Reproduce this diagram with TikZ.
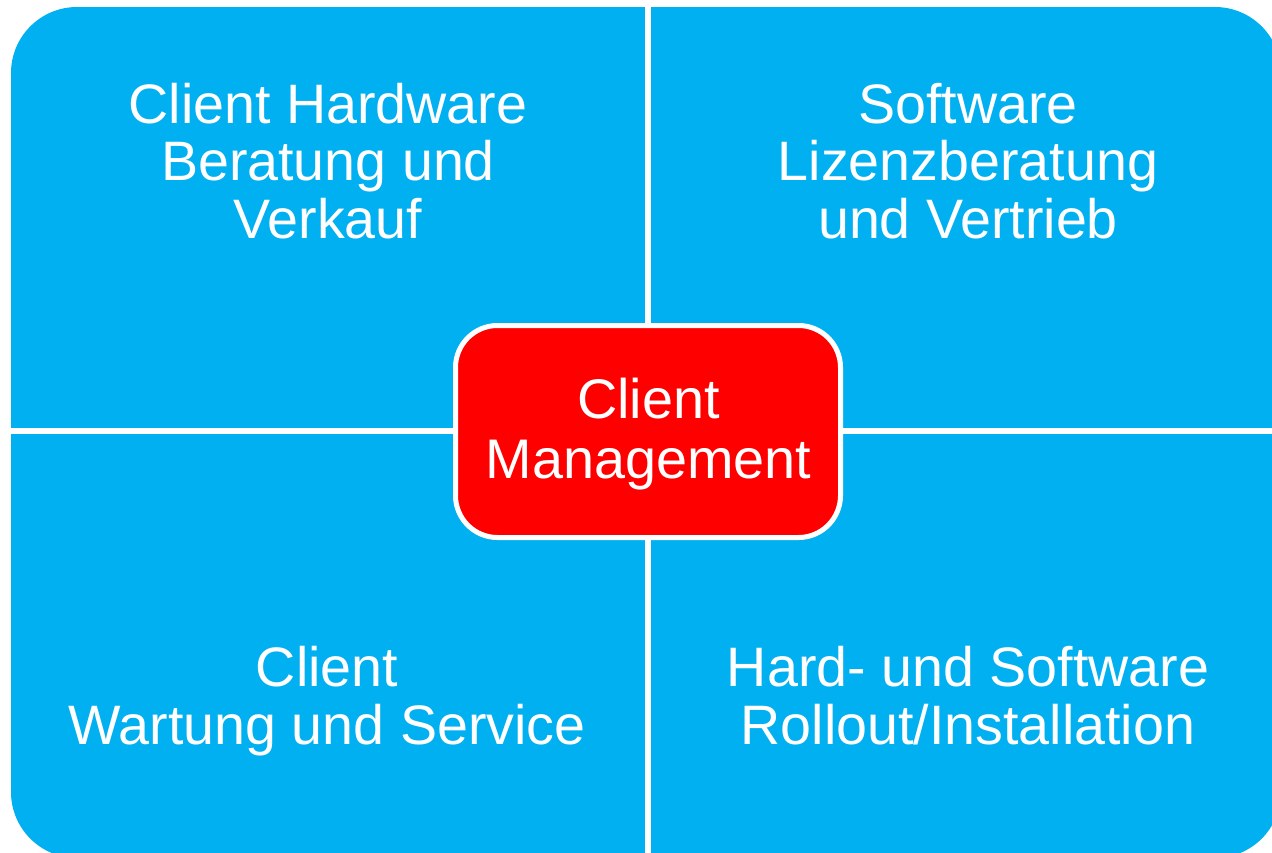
\documentclass[tikz,border=0pt]{standalone}
\usepackage{fontspec}
\setmainfont{Liberation Sans}
\definecolor{qblue}{HTML}{00B0F0}
\definecolor{cred}{HTML}{FF0000}
\tikzset{
  quadtext/.style={text=white, align=center, inner sep=0pt, anchor=base, font=\fontsize{55.6}{57.5}\selectfont},
  centerbox/.style={fill=cred, draw=white, line width=5pt, rounded corners=42pt, minimum width=385pt, minimum height=212pt, inner sep=0pt}
}
\begin{document}
\begin{tikzpicture}[x=1pt,y=-1pt]
\useasboundingbox (0,0) rectangle (1272,852);
\clip (0,0) rectangle (1272,852);
\fill[qblue, rounded corners=66pt] (11,7) rectangle (1281,858);
\draw[white, line width=6pt] (648,0) -- (648,860);
\draw[white, line width=6pt] (0,431) -- (1290,431);
\node[quadtext] (tl) at (328,238) {Client Hardware\\Beratung und\\Verkauf};
\node[quadtext] (tr) at (968,238) {Software\\Lizenzberatung\\und Vertrieb};
\node[quadtext] (bl) at (327,744) {Client\\Wartung und Service};
\node[quadtext] (br) at (968,744) {Hard- und Software\\Rollout/Installation};
\node[centerbox] (cm) at (648,431.5) {};
\node[quadtext, font=\fontsize{55.8}{60}\selectfont] (cmt) at (648.5,478) {Client\\Management};
\end{tikzpicture}
\end{document}
